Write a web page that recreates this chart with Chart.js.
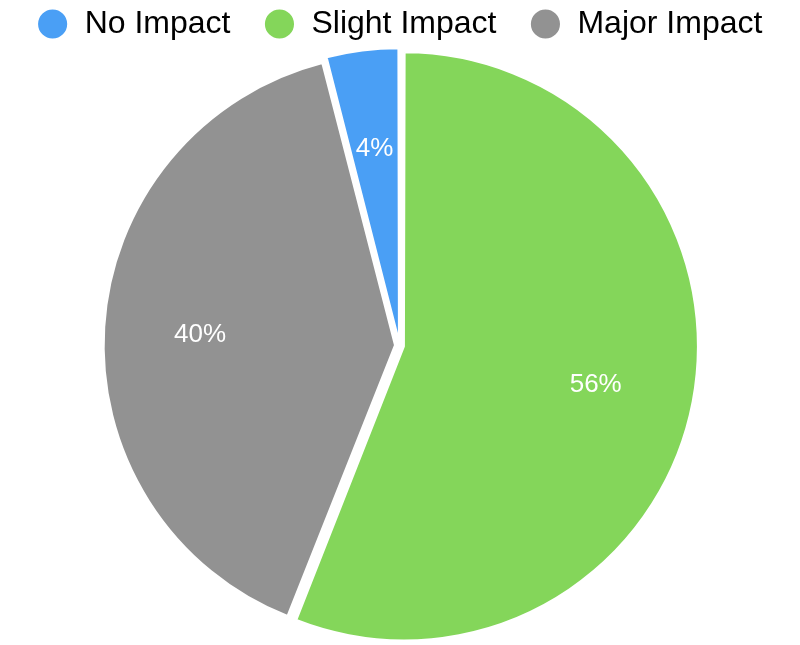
<!DOCTYPE html>
<html>
<head>
<meta charset="utf-8">
<title>Impact</title>
<script src="https://cdn.jsdelivr.net/npm/chart.js@4.4.0/dist/chart.umd.min.js"></script>
<style>
  html, body { margin: 0; padding: 0; background: #fff; }
  #wrap { width: 800px; height: 645px; position: relative; }
</style>
</head>
<body>
<div id="wrap"><canvas id="pieChart"></canvas></div>
<script>
// Chart data
const categories = ["No Impact", "Slight Impact", "Major Impact"];
const shares = [4, 56, 40];
const sliceColors = ["#4a9ff5", "#84d65a", "#929292"];

// Draws the percentage inside each slice
const sliceLabels = {
  id: "sliceLabels",
  afterDatasetsDraw(chart) {
    const ctx = chart.ctx;
    const meta = chart.getDatasetMeta(0);
    const total = shares.reduce((a, b) => a + b, 0);
    ctx.save();
    ctx.font = "26px 'Liberation Sans', Arial, sans-serif";
    ctx.fillStyle = "#fff";
    ctx.textAlign = "center";
    ctx.textBaseline = "middle";
    meta.data.forEach((arc, i) => {
      const { x, y, startAngle, endAngle, outerRadius } = arc.getProps(
        ["x", "y", "startAngle", "endAngle", "outerRadius"], true);
      const mid = (startAngle + endAngle) / 2;
      const dist = outerRadius * 0.69;
      const pct = Math.round(shares[i] / total * 100) + "%";
      ctx.fillText(pct, x + Math.cos(mid) * dist, y + Math.sin(mid) * dist + 2);
    });
    ctx.restore();
  }
};

const ctx = document.getElementById("pieChart").getContext("2d");
new Chart(ctx, {
  type: "pie",
  data: {
    labels: categories,
    datasets: [{
      data: shares,
      backgroundColor: sliceColors,
      borderColor: "#fff",
      borderWidth: 2,
      offset: 18,
      hoverOffset: 0
    }]
  },
  options: {
    responsive: true,
    maintainAspectRatio: false,
    animation: false,
    rotation: -14.4,
    layout: { padding: { top: -25, right: 1, bottom: 0, left: 0 } },
    plugins: {
      tooltip: { enabled: false },
      legend: {
        position: "top",
        maxHeight: 71,
        labels: {
          usePointStyle: true,
          pointStyle: "circle",
          boxHeight: 22,
          padding: 33,
          color: "#000",
          font: { family: "'Liberation Sans', Arial, sans-serif", size: 32 }
        }
      }
    }
  },
  plugins: [sliceLabels]
});
</script>
</body>
</html>
